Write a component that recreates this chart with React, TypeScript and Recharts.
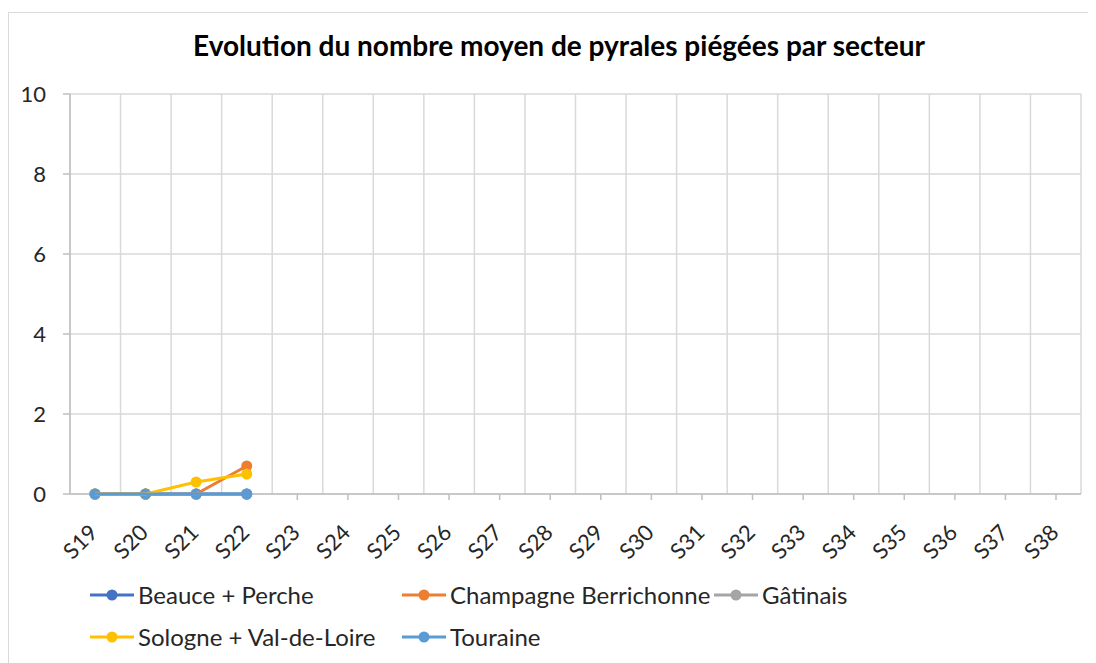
import { CartesianGrid, Line, LineChart, XAxis, YAxis } from "recharts"

const WEEKS = [
  "S19", "S20", "S21", "S22", "S23", "S24", "S25", "S26", "S27", "S28",
  "S29", "S30", "S31", "S32", "S33", "S34", "S35", "S36", "S37", "S38",
]

// only the first weeks have been observed so far
const BEAUCE_PERCHE = [0, 0, 0, 0]
const CHAMPAGNE_BERRICHONNE = [0, 0, 0, 0.7]
const GATINAIS = [0, 0, 0, 0]
const SOLOGNE_VAL_DE_LOIRE = [0, 0, 0.3, 0.5]
const TOURAINE = [0, 0, 0, 0]

const Y_TICKS = [0, 2, 4, 6, 8, 10]

const SERIES = [
  { key: "beauce", name: "Beauce + Perche", color: "#4472C4", values: BEAUCE_PERCHE },
  { key: "champagne", name: "Champagne Berrichonne", color: "#ED7D31", values: CHAMPAGNE_BERRICHONNE },
  { key: "gatinais", name: "Gâtinais", color: "#A5A5A5", values: GATINAIS },
  { key: "sologne", name: "Sologne + Val-de-Loire", color: "#FFC000", values: SOLOGNE_VAL_DE_LOIRE },
  { key: "touraine", name: "Touraine", color: "#5B9BD5", values: TOURAINE },
]

const data = WEEKS.map((week, i) => {
  const row: Record<string, string | number | null> = { week }
  for (const s of SERIES) row[s.key] = s.values[i] ?? null
  return row
})

const FONT = "Lato, 'Open Sans', sans-serif"
const GRID = "#d9d9d9"
const AXIS = "#bfbfbf"
const TEXT = "#262626"

function WeekTick({ x, y, payload }: { x: number; y: number; payload: { value: string } }) {
  const tx = x + 4
  const ty = y + 32
  return (
    <text
      x={tx}
      y={ty}
      transform={`rotate(-45 ${tx} ${ty})`}
      textAnchor="end"
      fontSize={22}
      fontFamily={FONT}
      fill={TEXT}
    >
      {payload.value}
    </text>
  )
}

function LegendItem({ name, color }: { name: string; color: string }) {
  return (
    <div style={{ display: "flex", alignItems: "center", width: 312, whiteSpace: "nowrap" }}>
      <svg width={46} height={14} style={{ marginRight: 2, flexShrink: 0 }}>
        <line x1={0} y1={7} x2={44} y2={7} stroke={color} strokeWidth={3} />
        <circle cx={22} cy={7} r={5.5} fill={color} />
      </svg>
      <span>{name}</span>
    </div>
  )
}

export default function App() {
  return (
    <div style={{ position: "relative", width: 1088, height: 655, overflow: "hidden", fontFamily: FONT }}>
      <div
        style={{
          position: "absolute",
          left: 0,
          top: 4,
          width: 1200,
          height: 800,
          border: `1.5px solid ${GRID}`,
          boxSizing: "border-box",
        }}
      />
      <div
        style={{
          position: "absolute",
          left: 0,
          width: 1102,
          top: 20,
          textAlign: "center",
          fontWeight: 700,
          fontSize: 28,
          color: "#000",
        }}
      >
        Evolution du nombre moyen de pyrales piégées par secteur
      </div>
      <div style={{ position: "absolute", left: 0, top: 0 }}>
        <LineChart width={1088} height={655} data={data} margin={{ top: 86, right: 15, bottom: 109, left: 0 }}>
          <CartesianGrid
            stroke={GRID}
            strokeWidth={1.5}
            verticalCoordinatesGenerator={({ offset }: any) =>
              Array.from({ length: WEEKS.length + 1 }, (_, i) => offset.left + (i * offset.width) / WEEKS.length)
            }
          />
          <XAxis
            dataKey="week"
            interval={0}
            padding={{ left: 25, right: 25 }}
            height={60}
            axisLine={{ stroke: AXIS, strokeWidth: 1.5 }}
            tickLine={{ stroke: AXIS, strokeWidth: 1.5 }}
            tickSize={6}
            tick={WeekTick as any}
          />
          <YAxis
            domain={[0, 10]}
            ticks={Y_TICKS}
            width={62}
            axisLine={{ stroke: AXIS, strokeWidth: 1.5 }}
            tickLine={{ stroke: AXIS, strokeWidth: 1.5 }}
            tickSize={7}
            tickMargin={17}
            tick={{ fontSize: 22, fontFamily: FONT, fill: TEXT }}
          />
          {SERIES.map((s) => (
            <Line
              key={s.key}
              dataKey={s.key}
              name={s.name}
              stroke={s.color}
              strokeWidth={3}
              dot={{ r: 5.5, fill: s.color, stroke: s.color, strokeWidth: 0 }}
              activeDot={false}
              connectNulls={false}
              isAnimationActive={false}
              {...({ zIndex: 700 } as any)}
            />
          ))}
        </LineChart>
      </div>
      <div
        style={{
          position: "absolute",
          left: 82,
          top: 572,
          display: "flex",
          flexWrap: "wrap",
          width: 940,
          rowGap: 12,
          fontSize: 24,
          lineHeight: "30px",
          color: TEXT,
        }}
      >
        {SERIES.map((s) => (
          <LegendItem key={s.key} name={s.name} color={s.color} />
        ))}
      </div>
    </div>
  )
}
